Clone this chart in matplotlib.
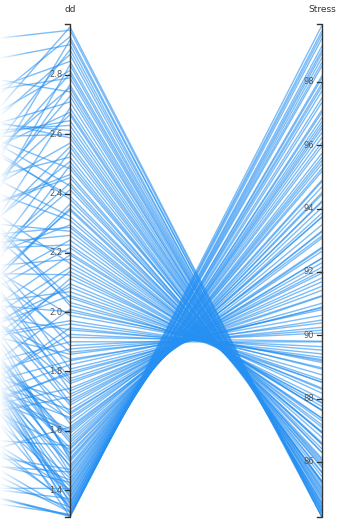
import matplotlib
matplotlib.use("Agg")
import matplotlib.pyplot as plt
import numpy as np


# values (one line per record)
dd = [1.309, 1.311, 1.313, 1.315, 1.318, 1.323, 1.325, 1.329, 1.336, 1.339, 1.343, 1.349, 1.354, 1.358, 1.363,
      1.371, 1.376, 1.381, 1.389, 1.394, 1.402, 1.405, 1.413, 1.420, 1.426, 1.434, 1.440, 1.449, 1.457, 1.461,
      1.470, 1.477, 1.484, 1.496, 1.502, 1.508, 1.519, 1.525, 1.537, 1.542, 1.550, 1.560, 1.569, 1.579, 1.591,
      1.599, 1.606, 1.613, 1.624, 1.638, 1.645, 1.656, 1.662, 1.672, 1.686, 1.695, 1.703, 1.714, 1.723, 1.734,
      1.743, 1.759, 1.767, 1.776, 1.791, 1.798, 1.808, 1.823, 1.836, 1.841, 1.858, 1.865, 1.876, 1.887, 1.900,
      1.915, 1.925, 1.940, 1.947, 1.960, 1.971, 1.989, 2.001, 2.009, 2.022, 2.033, 2.049, 2.056, 2.069, 2.084,
      2.096, 2.113, 2.126, 2.137, 2.151, 2.164, 2.178, 2.193, 2.200, 2.217, 2.227, 2.243, 2.259, 2.273, 2.286,
      2.294, 2.310, 2.323, 2.344, 2.350, 2.365, 2.381, 2.392, 2.413, 2.426, 2.436, 2.453, 2.464, 2.484, 2.495,
      2.508, 2.523, 2.542, 2.558, 2.570, 2.588, 2.600, 2.613, 2.630, 2.646, 2.666, 2.674, 2.689, 2.709, 2.728,
      2.743, 2.757, 2.767, 2.790, 2.804, 2.815, 2.834, 2.846, 2.869, 2.885, 2.902, 2.918, 2.929, 2.951, 2.962]

stress = [99.79, 99.62, 99.51, 99.38, 99.14, 98.91, 99.01, 98.77, 98.62, 98.51, 98.20, 98.12, 97.96, 97.86, 97.72,
          97.50, 97.36, 97.12, 97.04, 96.88, 96.75, 96.64, 96.54, 96.41, 96.25, 96.09, 95.97, 95.75, 95.62, 95.52,
          95.41, 95.27, 95.18, 94.86, 94.90, 94.69, 94.51, 94.45, 94.24, 94.21, 94.04, 93.86, 93.74, 93.73, 93.49,
          93.30, 93.27, 93.07, 93.14, 92.75, 92.78, 92.65, 92.44, 92.43, 92.29, 92.15, 92.04, 91.96, 91.81, 91.69,
          91.55, 91.42, 91.23, 91.25, 91.01, 90.89, 90.87, 90.81, 90.63, 90.48, 90.39, 90.25, 90.16, 90.07, 89.79,
          89.81, 89.64, 89.53, 89.41, 89.30, 89.23, 89.19, 89.14, 88.97, 88.93, 88.75, 88.52, 88.59, 88.51, 88.33,
          88.29, 88.17, 87.99, 87.87, 87.85, 87.75, 87.64, 87.63, 87.62, 87.37, 87.38, 87.29, 87.17, 87.09, 86.92,
          86.95, 86.92, 86.77, 86.56, 86.60, 86.55, 86.41, 86.29, 86.30, 86.06, 86.11, 85.99, 85.86, 85.92, 85.81,
          85.65, 85.68, 85.53, 85.37, 85.39, 85.37, 85.34, 85.26, 85.18, 85.14, 85.02, 85.08, 84.96, 84.90, 84.85,
          84.70, 84.68, 84.78, 84.64, 84.56, 84.57, 84.47, 84.49, 84.37, 84.40, 84.26, 84.40, 84.27, 84.26, 84.26]

# the axis to the left of "dd" is outside the picture; only its scaled position is known
prev = [0.76, 0.13, 0.13, 0.13, 0.08, 0.91, 0.27, 0.31, 0.83, 0.62, 0.19, 0.43, 0.88, 0.38, 0.71,
        0.10, 0.73, 0.78, 0.83, 0.67, 0.37, 0.06, 0.52, 0.76, 0.19, 0.27, 0.54, 0.75, 0.90, 0.13,
        0.18, 0.80, 0.64, 0.72, 1.00, 0.94, 0.84, 0.78, 0.40, 0.64, 0.18, 0.76, 0.76, 0.72, 0.44,
        0.38, 0.42, 0.03, 0.84, 0.54, 0.39, 0.55, 0.72, 0.38, 0.83, 0.92, 0.39, 0.14, 0.76, 0.99,
        0.15, 0.71, 0.83, 0.92, 0.12, 0.09, 0.99, 0.12, 0.18, 0.57, 0.45, 0.75, 0.19, 0.91, 0.22,
        0.77, 0.07, 0.47, 0.03, 0.31, 0.31, 0.72, 0.46, 0.06, 1.00, 0.89, 0.92, 0.25, 0.39, 0.23,
        0.12, 0.03, 0.50, 0.12, 0.18, 0.86, 0.48, 0.18, 0.67, 0.27, 0.53, 0.28, 0.52, 0.63, 0.54,
        0.40, 0.79, 0.87, 0.18, 0.14, 0.11, 0.98, 0.94, 0.23, 0.97, 0.21, 0.51, 0.50, 0.91, 0.04,
        0.32, 0.60, 0.07, 0.24, 0.47, 0.88, 0.76, 0.83, 0.76, 0.71, 0.35, 0.58, 0.05, 0.69, 0.26,
        0.95, 0.44, 0.16, 0.81, 0.33, 0.61, 0.02, 0.74, 0.49, 0.29, 0.86, 0.11, 0.56, 0.93, 0.41]

dd_range = (1.309, 2.972)
stress_range = (84.26, 99.83)
dd_ticks = [2.8, 2.6, 2.4, 2.2, 2.0, 1.8, 1.6, 1.4]
stress_ticks = [98, 96, 94, 92, 90, 88, 86]


def scale(vals, rng):
    return (np.asarray(vals) - rng[0]) / (rng[1] - rng[0])


dd_n = scale(dd, dd_range)
stress_n = scale(stress, stress_range)

fig = plt.figure(figsize=(3.37, 5.19), dpi=100)
ax = fig.add_axes([0, 0, 1, 1])

for p, d, s in zip(prev, dd_n, stress_n):
    ax.plot([0, 1, 2], [p, d, s], color='#2690f2', alpha=0.6, lw=1.0, solid_capstyle='butt')

ax.set_xlim(1 - 70 / 252, 1 + 267 / 252)
ax.set_ylim(-2 / 493, 517 / 493)
ax.axis('off')

# lines fade out towards the left edge
fade = np.ones((2, 60, 4))
fade[..., 3] = np.linspace(1, 0, 60) ** 1.2
ax.imshow(fade, extent=(1 - 70 / 252, 1 - 42 / 252, -2 / 493, 517 / 493), aspect='auto', zorder=5)

for xa, rng, ticks, name, fmt in [(1, dd_range, dd_ticks, "dd", "{:.1f}"),
                                  (2, stress_range, stress_ticks, "Stress", "{:g}")]:
    ax.plot([xa - 0.02, xa, xa, xa - 0.02], [1, 1, 0, 0], color='#333333', lw=1.0, zorder=6)
    for tv in ticks:
        yv = scale(tv, rng)
        ax.plot([xa - 0.02, xa], [yv, yv], color='#333333', lw=0.9, zorder=6)
        ax.text(xa - 0.03, yv, fmt.format(tv), ha='right', va='center',
                fontsize=6, color='#555555', zorder=7)
    ax.text(xa, 507 / 493, name, ha='center', va='center', fontsize=6.5, color='#333333')

fig.savefig("out.png")
